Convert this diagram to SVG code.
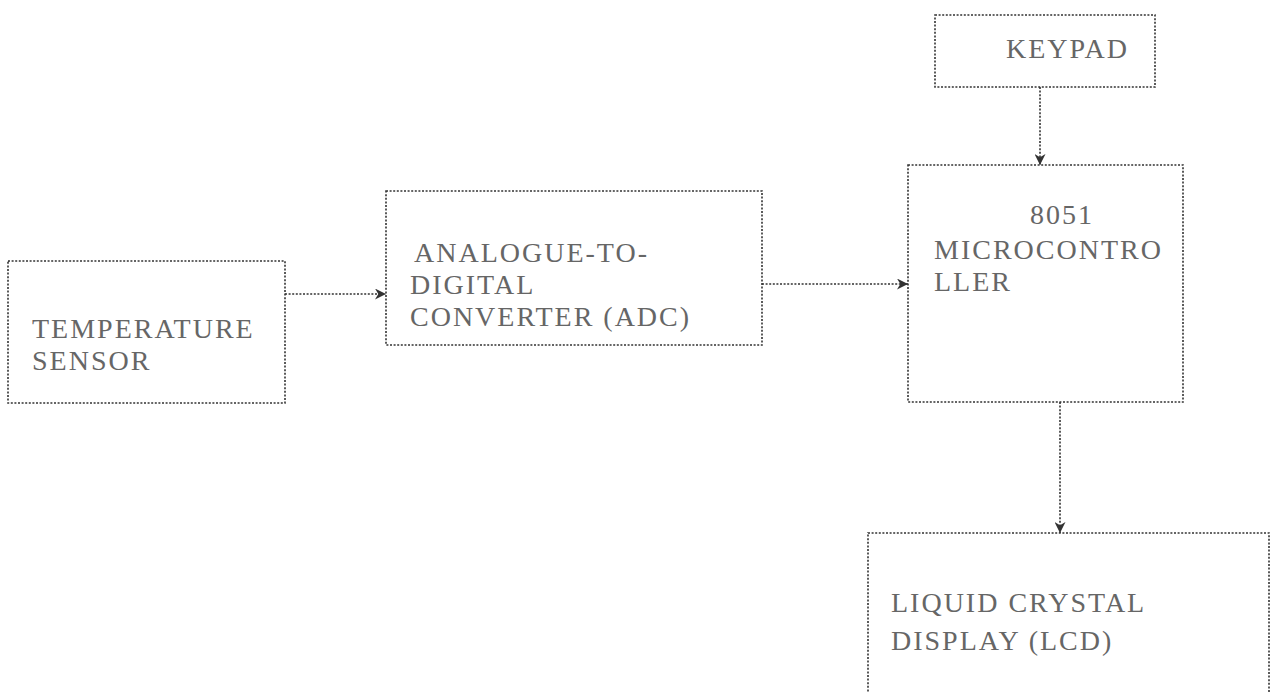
<svg xmlns="http://www.w3.org/2000/svg" width="1273" height="693" viewBox="0 0 1273 693">
<style>
.box{fill:none;stroke:#333;stroke-width:1.6;stroke-dasharray:2 1.6}
.lbl{font-size:28px;letter-spacing:2px;fill:#666}
.con{fill:none;stroke:#333;stroke-width:1.6;stroke-dasharray:2 1.6}
</style>
<defs>
<marker id="ah" viewBox="0 0 10 10" refX="10" refY="5" markerWidth="11" markerHeight="11" markerUnits="userSpaceOnUse" orient="auto">
<path d="M0,0 L10,5 L0,10 L3,5 Z" fill="#333"/>
</marker>
</defs>
<rect width="1273" height="693" fill="#fff"/>
<g id="connectors">
<line class="con" x1="285" y1="294" x2="386" y2="294" marker-end="url(#ah)"/>
<line class="con" x1="762" y1="284" x2="908" y2="284" marker-end="url(#ah)"/>
<line class="con" x1="1040" y1="87" x2="1040" y2="165" marker-end="url(#ah)"/>
<line class="con" x1="1060" y1="402" x2="1060" y2="533" marker-end="url(#ah)"/>
</g>
<g font-family="Liberation Serif, Times New Roman, serif">
<g id="temp-sensor">
<rect class="box" x="8" y="261" width="277" height="142"/>
<text class="lbl" x="32" y="338">TEMPERATURE</text>
<text class="lbl" x="32" y="370">SENSOR</text>
</g>
<g id="adc">
<rect class="box" x="386" y="191" width="376" height="154"/>
<text class="lbl" x="414" y="262"> ANALOGUE-TO-</text>
<text class="lbl" x="410" y="294">DIGITAL</text>
<text class="lbl" x="410" y="326">CONVERTER (ADC)</text>
</g>
<g id="keypad">
<rect class="box" x="935" y="15" width="220" height="72"/>
<text class="lbl" x="1006" y="58">KEYPAD</text>
</g>
<g id="mcu">
<rect class="box" x="908" y="165" width="275" height="237"/>
<text class="lbl" x="1030" y="224">8051</text>
<text class="lbl" x="934" y="259">MICROCONTRO</text>
<text class="lbl" x="934" y="291">LLER</text>
</g>
<g id="lcd">
<rect class="box" x="868" y="533" width="401" height="175"/>
<text class="lbl" x="891" y="612">LIQUID CRYSTAL</text>
<text class="lbl" x="891" y="650">DISPLAY (LCD)</text>
</g>
</g>
</svg>
